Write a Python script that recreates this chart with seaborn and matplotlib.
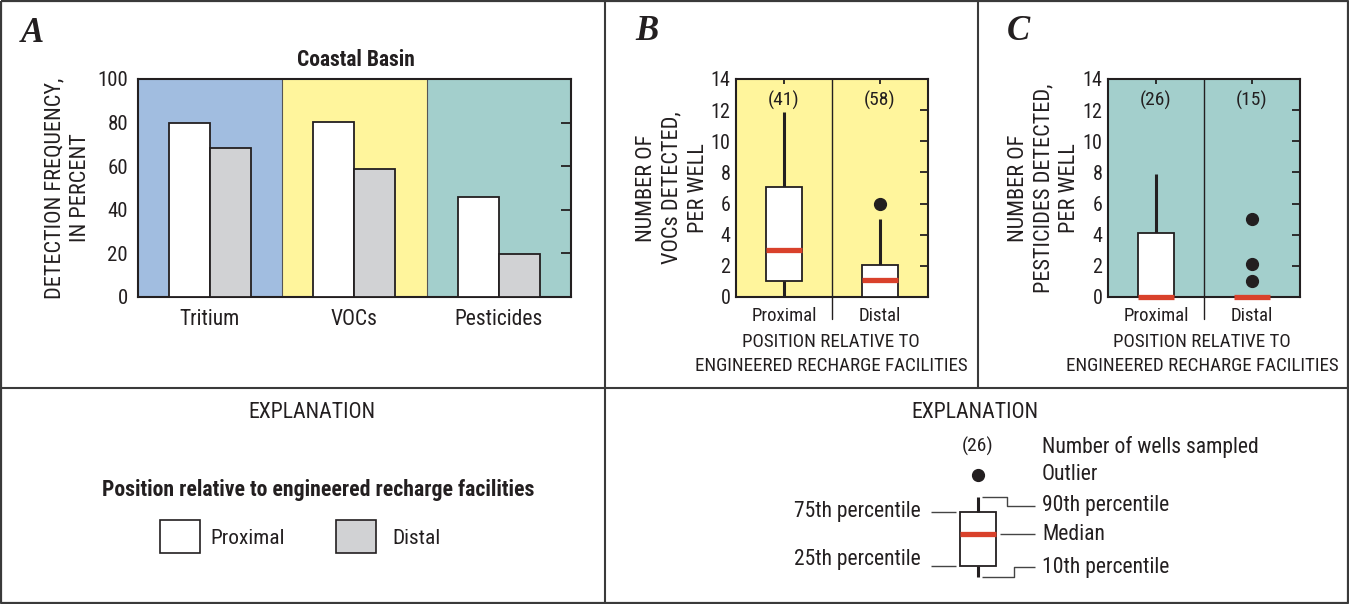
import numpy as np
import pandas as pd
import matplotlib
matplotlib.use("Agg")
import matplotlib.pyplot as plt
import seaborn as sns
from matplotlib import font_manager as fm
from matplotlib.lines import Line2D
from matplotlib.patches import Rectangle

# ---------------- data ----------------
categories = ["Tritium", "VOCs", "Pesticides"]
positions = ["Proximal", "Distal"]
proximal_freq = [80.0, 80.4, 45.9]
distal_freq = [68.4, 58.5, 19.8]
pct_ticks = [0, 20, 40, 60, 80, 100]
count_ticks = [0, 2, 4, 6, 8, 10, 12, 14]

voc_n = [41, 58]
voc_q10 = [0.0, 0.0]
voc_q25 = [1.05, 0.0]
voc_median = [3.05, 1.1]
voc_q75 = [7.04, 2.08]
voc_q90 = [11.87, 5.0]
voc_outliers = [[], [6.0]]

pest_n = [26, 15]
pest_q10 = [0.0, 0.0]
pest_q25 = [0.0, 0.0]
pest_median = [0.0, 0.0]
pest_q75 = [4.08, 0.0]
pest_q90 = [7.9, 0.0]
pest_outliers = [[], [5.0, 2.1, 1.0]]

# explanation diagram (schematic values)
key_n = 26
key_q10, key_q25, key_median, key_q75, key_q90 = 0.0, 11.0, 42.7, 65.0, 80.0
key_outlier = [101.7]


# ---------------- font choice: a condensed sans if one is installed ----------------
def pick_condensed():
    order = {"condensed": 0, "semi-condensed": 1, "extra-condensed": 2,
             "ultra-condensed": 3}
    prefs = ["Roboto Condensed", "Liberation Sans Narrow", "Noto Sans",
             "Open Sans", "DejaVu Sans", "Roboto", "Lato", "Inter"]
    found = []
    for f in fm.fontManager.ttflist:
        st = str(f.stretch)
        narrow = st in order or "Condensed" in f.name or "Narrow" in f.name
        if narrow and f.style == "normal":
            found.append(f)
    best = None
    for pi, p in enumerate(prefs):
        for f in found:
            if f.name == p:
                key = (pi, order.get(str(f.stretch), 0))
                if best is None or key < best[0]:
                    best = (key, f.name, str(f.stretch))
    if best is None:
        return None
    return best[1], best[2]


sns.set_theme(style="white")
choice = pick_condensed()
if choice is not None:
    plt.rcParams["font.family"] = [choice[0], "DejaVu Sans"]
    if choice[1] in ("condensed", "semi-condensed", "extra-condensed",
                     "ultra-condensed"):
        plt.rcParams["font.stretch"] = choice[1]
    FS = 1.0
else:
    plt.rcParams["font.family"] = ["DejaVu Sans"]
    FS = 0.84
plt.rcParams["text.color"] = "#231f20"
plt.rcParams["axes.labelcolor"] = "#231f20"
plt.rcParams["xtick.color"] = "#231f20"
plt.rcParams["ytick.color"] = "#231f20"

INK = "#231f20"
BLUE = "#a1bde0"
YELLOW = "#fff59c"
TEAL = "#a3cfcc"
GREY = "#d1d2d4"
RED = "#d9412b"

W, H = 1349, 604
fig = plt.figure(figsize=(W / 100, H / 100), dpi=100)
fig.patch.set_facecolor("white")


def ax_rect(left, top, right, bottom):
    return [left / W, 1 - bottom / H, (right - left) / W, (bottom - top) / H]


def fline(xs, ys, color="#3a3a3a", lw=1.0):
    fig.add_artist(Line2D([x / W for x in xs], [1 - y / H for y in ys],
                          transform=fig.transFigure, color=color, lw=lw,
                          solid_capstyle="butt"))


def ftext(x, y, s, size, **kw):
    fig.text(x / W, 1 - y / H, s, fontsize=size * FS, **kw)


def vlabel(xs, y, lines, size):
    # rotated multi-line axis title, one text per line
    for x, s in zip(xs, lines):
        ftext(x, y, s, size, rotation=90, ha="center", va="center")


# ---------------- panel A ----------------
axA = fig.add_axes(ax_rect(137.7, 79, 571, 296.7))
df = pd.DataFrame({
    "category": categories * 2,
    "position": ["Proximal"] * 3 + ["Distal"] * 3,
    "value": proximal_freq + distal_freq,
})
sns.barplot(data=df, x="category", y="value", hue="position", order=categories,
            hue_order=positions, palette={"Proximal": "white", "Distal": GREY},
            saturation=1, width=0.568, edgecolor=INK, linewidth=1.3,
            errorbar=None, legend=False, ax=axA, zorder=3)
for i, c in enumerate([BLUE, YELLOW, TEAL]):
    axA.axvspan(i - 0.5, i + 0.5, color=c, lw=0, zorder=0)
for xb in [0.5, 1.5]:
    axA.axvline(xb, color="#555555", lw=0.8, zorder=1)
axA.set_xlim(-0.5, 2.5)
axA.set_ylim(0, 100)
axA.set_yticks(pct_ticks)
axA.set_xlabel("")
axA.set_ylabel("")
axA.tick_params(axis="y", direction="in", left=False, right=True, labelleft=True,
                length=7, width=1.3, pad=7, labelsize=15 * FS)
axA.tick_params(axis="x", bottom=False, length=0, pad=9, labelsize=15.5 * FS)
for sp in axA.spines.values():
    sp.set_color(INK)
    sp.set_linewidth(1.5)
    sp.set_visible(True)
ftext(355.8, 60, "Coastal Basin", 15.5, ha="center", va="center",
      fontweight="bold")
vlabel([55, 80], 188, ["DETECTION FREQUENCY,", "IN PERCENT"], 16)


# ---------------- box panels ----------------
def box_panel(rect, bg, n, q10, q25, med, q75, q90, outl, ylab, ylab_xs, xlab_x):
    ax = fig.add_axes(ax_rect(*rect))
    ax.set_facecolor(bg)
    stats = []
    for i in range(2):
        stats.append(dict(med=med[i], q1=q25[i], q3=q75[i], whislo=q10[i],
                          whishi=q90[i], fliers=outl[i]))
    art = ax.bxp(stats, positions=[0, 1], widths=0.385, patch_artist=True,
                 showcaps=False, showfliers=True,
                 boxprops=dict(facecolor="white", edgecolor=INK, lw=1.3),
                 medianprops=dict(color=RED, lw=3.8, solid_capstyle="butt"),
                 whiskerprops=dict(color=INK, lw=2.2, solid_capstyle="butt"),
                 flierprops=dict(marker="o", markerfacecolor=INK,
                                 markeredgecolor=INK, markersize=8.5))
    for m in art["medians"]:
        m.set_clip_on(False)
        m.set_zorder(5)
    for b in art["boxes"]:
        b.set_zorder(3)
    ax.axvline(0.5, ymin=-0.1, ymax=1, clip_on=False, color=INK, lw=1.0,
               zorder=2)
    for i in range(2):
        ax.text(i, 12.65, f"({n[i]})", ha="center", va="center",
                fontsize=14 * FS)
    ax.set_xlim(-0.5, 1.5)
    ax.set_ylim(0, 14)
    ax.set_yticks(count_ticks)
    ax.set_xticks([0, 1])
    ax.set_xticklabels(positions)
    ax.tick_params(axis="y", direction="in", left=False, right=True,
                   labelleft=True, length=5.5, width=1.3, pad=4,
                   labelsize=14.5 * FS)
    ax.tick_params(axis="x", direction="in", bottom=False, top=True,
                   labelbottom=True, length=3.5, width=1.3, pad=7,
                   labelsize=13.5 * FS)
    for sp in ax.spines.values():
        sp.set_color(INK)
        sp.set_linewidth(1.5)
        sp.set_visible(True)
    vlabel(ylab_xs, 188, ylab, 16)
    ftext(xlab_x, 354, "POSITION RELATIVE TO\nENGINEERED RECHARGE FACILITIES",
          13.7, ha="center", va="center", linespacing=1.36,
          multialignment="center")
    return ax


box_panel((736, 79, 928, 297), YELLOW, voc_n, voc_q10, voc_q25, voc_median,
          voc_q75, voc_q90, voc_outliers,
          ["NUMBER OF", "VOCs DETECTED,", "PER WELL"], [646, 672, 698], 831)
box_panel((1108, 79, 1300, 297), TEAL, pest_n, pest_q10, pest_q25, pest_median,
          pest_q75, pest_q90, pest_outliers,
          ["NUMBER OF", "PESTICIDES DETECTED,", "PER WELL"],
          [1018.5, 1044, 1069.5], 1202)

# panel letters
for lx, ly, L in [(32.7, 33, "A"), (646.7, 31, "B"), (1018, 31, "C")]:
    fig.text(lx / W, 1 - ly / H, L, ha="center", va="center", fontsize=25,
             family="Liberation Serif", fontweight="bold", fontstyle="italic",
             fontstretch="normal")

# ---------------- explanation A ----------------
ftext(311.5, 413, "EXPLANATION", 15.7, ha="center", va="center")
ftext(318, 490, "Position relative to engineered recharge facilities", 15.7,
      ha="center", va="center", fontweight="bold")
for (x0, x1), col, lab, tx in [((159.6, 200.4), "white", "Proximal", 210.8),
                                ((335.8, 376), GREY, "Distal", 392)]:
    fig.add_artist(Rectangle((x0 / W, 1 - 553 / H), (x1 - x0) / W, 33 / H,
                             transform=fig.transFigure, facecolor=col,
                             edgecolor=INK, lw=1.2))
    ftext(tx, 538, lab, 15.4, ha="left", va="center")

# ---------------- explanation B/C (box key) ----------------
ftext(974.5, 413, "EXPLANATION", 15.7, ha="center", va="center")
axK = fig.add_axes(ax_rect(930.5, 576.7 - 140, 1025.5, 576.7 + 10))
axK.set_xlim(-0.5, 0.5)
axK.set_ylim(-10, 140)
axK.axis("off")
kart = axK.bxp([dict(med=key_median, q1=key_q25, q3=key_q75, whislo=key_q10,
                     whishi=key_q90, fliers=key_outlier)],
               positions=[0], widths=0.385, patch_artist=True, showcaps=False,
               boxprops=dict(facecolor="white", edgecolor=INK, lw=1.3),
               medianprops=dict(color=RED, lw=3.8, solid_capstyle="butt"),
               whiskerprops=dict(color=INK, lw=2.2, solid_capstyle="butt"),
               flierprops=dict(marker="o", markerfacecolor=INK,
                               markeredgecolor=INK, markersize=8.5))
axK.text(0, 130, f"({key_n})", ha="center", va="center", fontsize=14 * FS)

lc = "#444444"
fline([930.6, 955.5], [511.7, 511.7], lc)
fline([930.6, 955.5], [565.7, 565.7], lc)
fline([982.5, 1006.7, 1006.7, 1035], [496.7, 496.7, 506, 506], lc)
fline([1000, 1035], [534, 534], lc)
fline([982.5, 1014, 1014, 1035], [576.7, 576.7, 567.3, 567.3], lc)
ftext(921, 511.7, "75th percentile", 15.5, ha="right", va="center")
ftext(921, 560, "25th percentile", 15.5, ha="right", va="center")
for ty, s in [(446.7, "Number of wells sampled"), (475, "Outlier"),
              (506, "90th percentile"), (534, "Median"),
              (567.3, "10th percentile")]:
    ftext(1042, ty, s, 15.6, ha="left", va="center")

# ---------------- frame lines ----------------
bc = "#3a3a3a"
fline([1, 1348, 1348, 1, 1], [1, 1, 603, 603, 1], bc, 1.6)
fline([1, 1348], [388, 388], bc, 1.5)
fline([605, 605], [1, 603], bc, 1.5)
fline([977.5, 977.5], [1, 388], bc, 1.5)

fig.savefig("out.png", dpi=100, facecolor="white")
